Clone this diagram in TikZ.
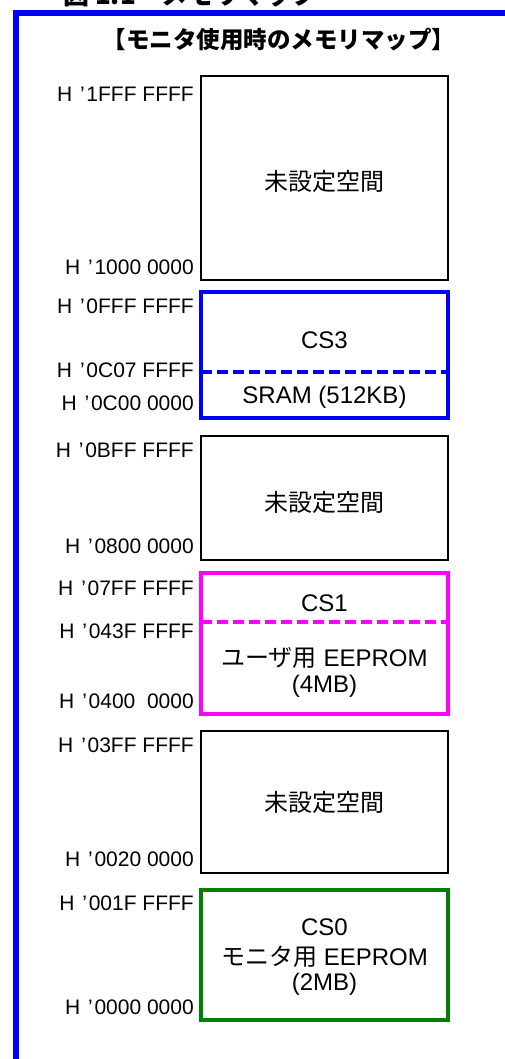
\documentclass[tikz,border=0pt]{standalone}
\usepackage{fontspec}
\setmainfont{Liberation Sans}
\newfontfamily\jp{Noto Sans CJK JP}
\definecolor{frameblue}{RGB}{0,0,255}
\definecolor{csmag}{RGB}{255,0,255}
\definecolor{csgreen}{RGB}{0,128,0}
\newcommand{\haddr}[1]{H\kern0.38em’\kern0.08em#1}
\begin{document}
\begin{tikzpicture}[x=1pt,y=-1pt,
  addr/.style={anchor=base east, inner sep=0pt, font=\fontsize{21}{24}\selectfont},
  boxtxt/.style={anchor=base, inner sep=0pt, font=\fontsize{24}{28}\selectfont},
  region/.style={draw=black, line width=2.2pt, minimum width=247pt, inner sep=0pt, outer sep=0pt},
  csregion/.style={region, line width=4pt},
  divider/.style={line width=4pt, dash pattern=on 11pt off 5pt}
]
\useasboundingbox (0,0) rectangle (504,1059);
% outer frame (cropped)
\draw[frameblue, line width=6pt] (16,1075) -- (16,13) -- (520,13);
% caption (cropped at top)
\node[anchor=base west, inner sep=0pt, font=\jp\bfseries\fontsize{26}{30}\selectfont] (cap) at (63,5) {図 1.1　メモリマップ};
% title
\node[anchor=base, inner sep=0pt, font=\jp\bfseries\fontsize{23.5}{27}\selectfont] (title) at (279,49) {【モニタ使用時のメモリマップ】};

% regions
\node[region, minimum height=204pt] (b1) at (324.5,178) {};
\node[csregion, draw=frameblue, minimum height=126pt] (b2) at (324.5,355) {};
\node[region, minimum height=124pt] (b3) at (324.5,498) {};
\node[csregion, draw=csmag, minimum height=141pt] (b4) at (324.5,643.5) {};
\node[region, minimum height=142pt] (b5) at (324.5,802) {};
\node[csregion, draw=csgreen, minimum height=130pt] (b6) at (324.5,955) {};

% dividers
\coordinate (d2l) at (b2.west |- 0,372);
\coordinate (d2r) at (b2.east |- 0,372);
\draw[divider, frameblue] (d2l) -- (d2r);
\coordinate (d4l) at (b4.west |- 0,622);
\coordinate (d4r) at (b4.east |- 0,622);
\draw[divider, csmag] (d4l) -- (d4r);

% region texts
\node[boxtxt, font=\jp\fontsize{24}{28}\selectfont] (t1) at (324.5,191) {未設定空間};
\node[boxtxt] (t2a) at (324.5,348) {CS3};
\node[boxtxt] (t2b) at (324.5,403) {SRAM (512KB)};
\node[boxtxt, font=\jp\fontsize{24}{28}\selectfont] (t3) at (324.5,511) {未設定空間};
\node[boxtxt] (t4a) at (324.5,611) {CS1};
\node[boxtxt] (t4b) at (324.5,666) {{\jp ユーザ用} EEPROM};
\node[boxtxt] (t4c) at (324.5,692) {(4MB)};
\node[boxtxt, font=\jp\fontsize{24}{28}\selectfont] (t5) at (324.5,811) {未設定空間};
\node[boxtxt] (t6a) at (324.5,935) {CS0};
\node[boxtxt] (t6b) at (324.5,965) {{\jp モニタ用} EEPROM};
\node[boxtxt] (t6c) at (324.5,990) {(2MB)};

% address labels
\node[addr] (a1) at (194,102) {\haddr{1FFF FFFF}};
\node[addr] (a2) at (194,274.5) {\haddr{1000 0000}};
\node[addr] (a3) at (194,313) {\haddr{0FFF FFFF}};
\node[addr] (a4) at (194,377) {\haddr{0C07 FFFF}};
\node[addr] (a5) at (194,410) {\haddr{0C00 0000}};
\node[addr] (a6) at (194,457) {\haddr{0BFF FFFF}};
\node[addr] (a7) at (194,553) {\haddr{0800 0000}};
\node[addr] (a8) at (194,595) {\haddr{07FF FFFF}};
\node[addr] (a9) at (194,638) {\haddr{043F FFFF}};
\node[addr] (a10) at (194,708) {\haddr{0400\ \ 0000}};
\node[addr] (a11) at (194,752) {\haddr{03FF FFFF}};
\node[addr] (a12) at (194,866) {\haddr{0020 0000}};
\node[addr] (a13) at (194,910) {\haddr{001F FFFF}};
\node[addr] (a14) at (194,1014) {\haddr{0000 0000}};
\end{tikzpicture}
\end{document}
